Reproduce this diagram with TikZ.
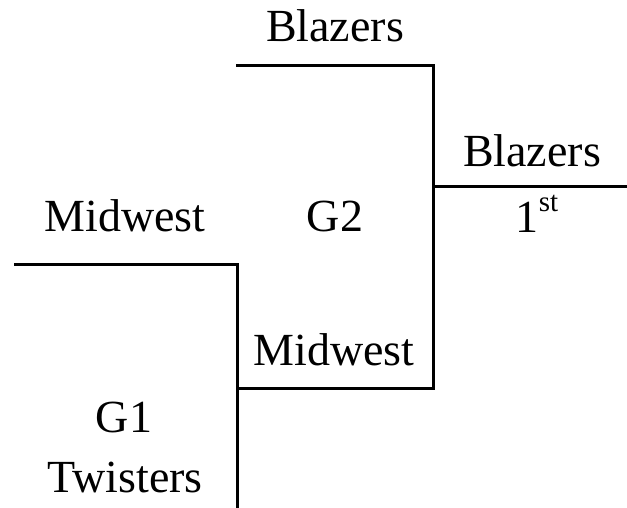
\documentclass[tikz,border=0pt]{standalone}
\usepackage{fontspec}
\setmainfont{Liberation Serif}
\begin{document}
\begin{tikzpicture}[x=1pt,y=-1pt,
  lbl/.style={anchor=base,inner sep=0pt,font=\fontsize{46}{52}\selectfont},
  bline/.style={line width=3pt,line cap=rect}]
\useasboundingbox (0,0) rectangle (627,508);
% coordinates
\coordinate (a1) at (15,264);
\coordinate (a2) at (237,264);
\coordinate (a3) at (237,508);
\coordinate (b0) at (237,388);
\coordinate (b1) at (433,388);
\coordinate (t0) at (237,66);
\coordinate (t1) at (433,66);
\coordinate (r0) at (433,187);
\coordinate (r1) at (627,187);
% lines
\draw[bline] (a1) -- (a2) -- (a3);
\draw[bline] (b0) -- (b1) -- (t1) -- (t0);
\draw[bline] (r0) -- (r1);
% labels
\node[lbl] (tb) at (335,42) {Blazers};
\node[lbl] (rb) at (532,167) {Blazers};
\node[lbl] (first) at (537,233) {1\raisebox{21pt}{\fontsize{29}{30}\selectfont st}};
\node[lbl] (mw1) at (125,232) {Midwest};
\node[lbl] (g2) at (335,232) {G2};
\node[lbl] (mw2) at (334,365) {Midwest};
\node[lbl] (g1) at (124,432) {G1};
\node[lbl] (tw) at (125,492) {Twisters};
\end{tikzpicture}
\end{document}
